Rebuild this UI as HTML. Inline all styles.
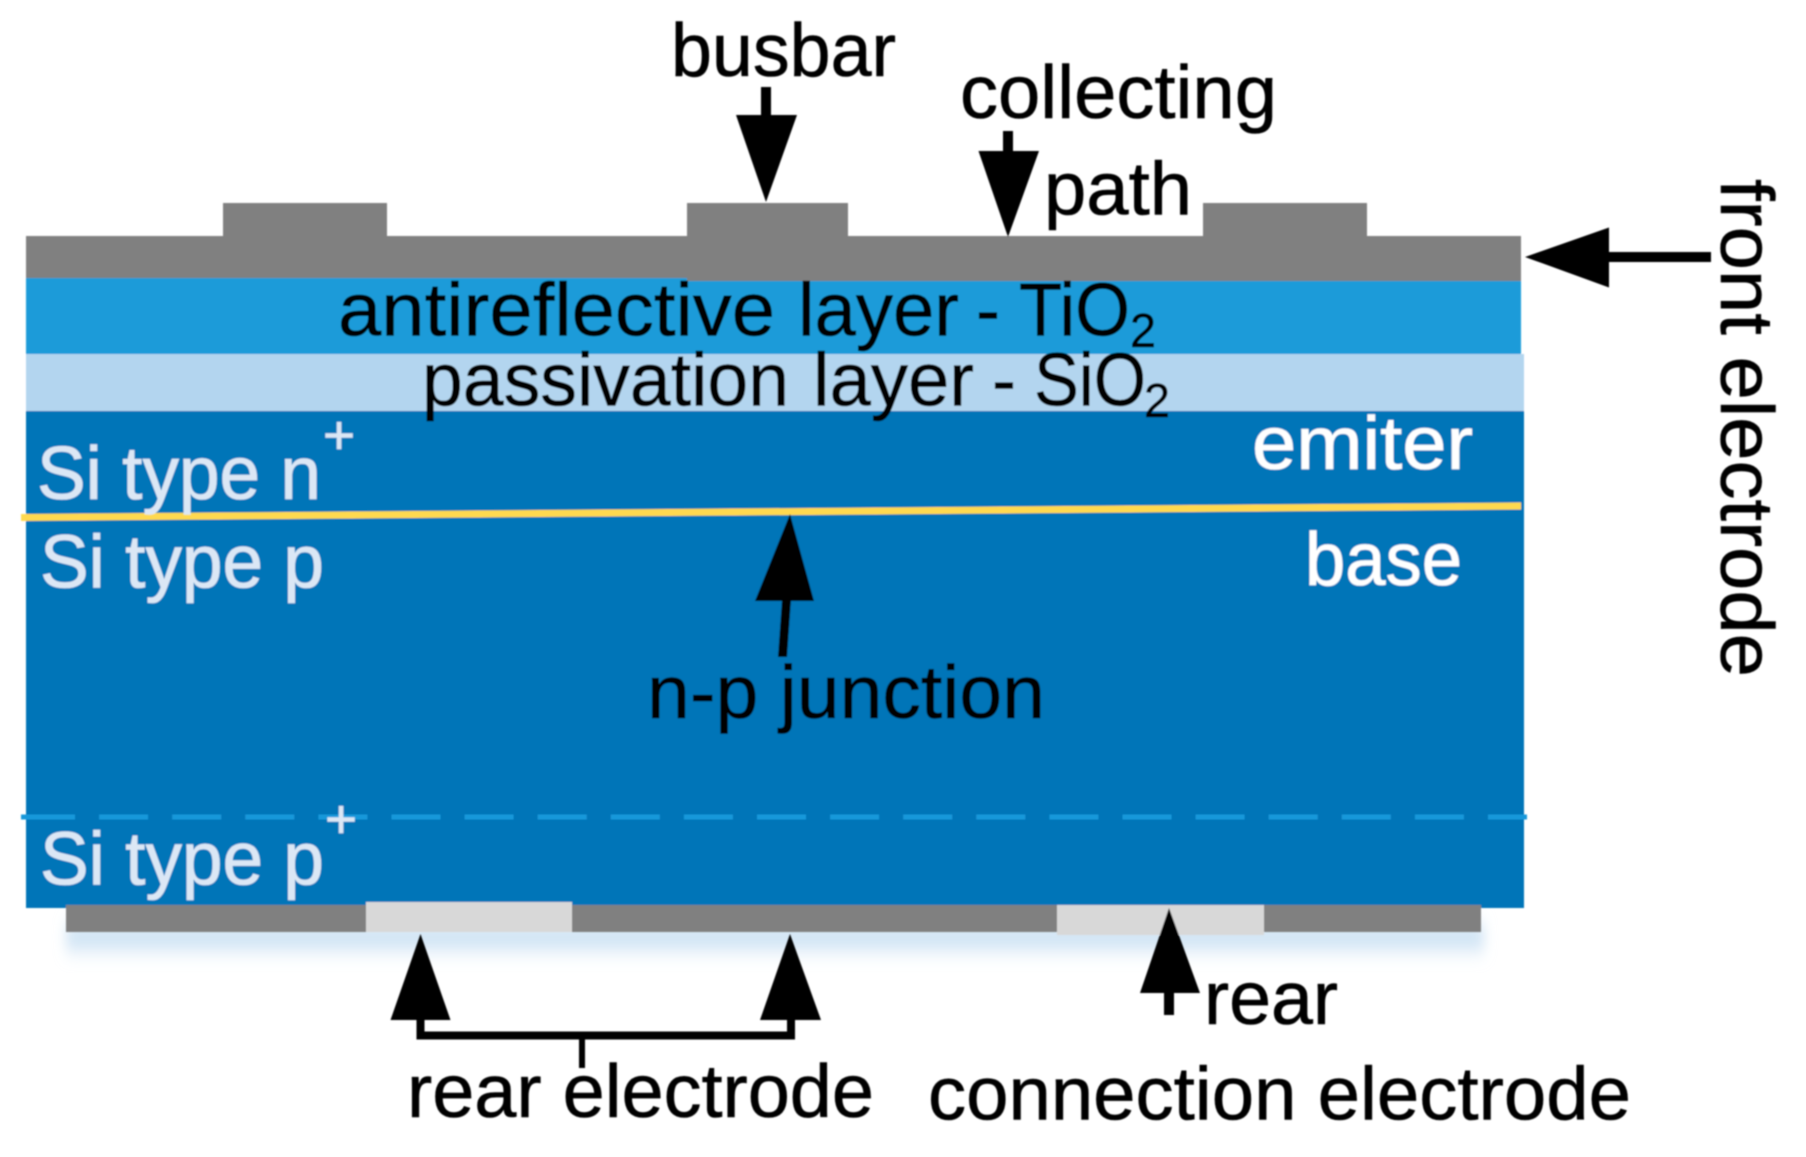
<!DOCTYPE html>
<html>
<head>
<meta charset="utf-8">
<style>
html,body{margin:0;padding:0;background:#fff;}
svg{display:block;}
text{font-family:"Liberation Sans",sans-serif;font-size:75px;fill:#000;stroke:#000;stroke-width:.6px;}
.w{fill:#fff;stroke:#fff;}
.l{fill:#dbe7f5;stroke:#dbe7f5;}
</style>
</head>
<body>
<svg width="1806" height="1157" viewBox="0 0 1806 1157" xmlns="http://www.w3.org/2000/svg">
<defs>
<filter id="b" x="-5%" y="-100%" width="110%" height="300%"><feGaussianBlur stdDeviation="6 10"/></filter>
<filter id="s" x="-5%" y="-5%" width="110%" height="110%"><feGaussianBlur stdDeviation="0.8"/></filter>
</defs>
<rect x="66" y="925" width="1418" height="24" fill="#c9e0f3" filter="url(#b)"/>
<g filter="url(#s)">
<rect x="26" y="411" width="1498" height="497" fill="#0174b8"/>
<rect x="26" y="278" width="1495" height="76" fill="#1c9bd9"/>
<rect x="26" y="354" width="1498" height="57" fill="#b3d5ef"/>
<path d="M26 236H223V203H387V236H687V203H848V236H1203V203H1367V236H1521V281H687V278H26Z" fill="#808080"/>
<rect x="66" y="905" width="1415" height="27" fill="#808080"/>
<rect x="366" y="902" width="206" height="30" fill="#d8d8d8"/>
<rect x="1057" y="905" width="207" height="30" fill="#d8d8d8"/>
<line x1="21" y1="517.5" x2="1521" y2="506" stroke="#ffd94f" stroke-width="7"/>
<line x1="21" y1="817" x2="27" y2="817" stroke="#1598da" stroke-width="5"/>
<line x1="26" y1="817" x2="1527" y2="817" stroke="#1598da" stroke-width="5" stroke-dasharray="49 24.1"/>
<g fill="#000" stroke="none">
<rect x="761" y="87" width="10" height="30"/>
<polygon points="736,115 797,115 766,202"/>
<rect x="1003" y="131" width="10" height="22"/>
<polygon points="978.5,151 1039,151 1008,237"/>
<polygon points="1525,257 1609,227.5 1609,287.5"/>
<rect x="1607" y="252" width="104" height="10"/>
<polygon points="790,514 755,601 814,601"/>
<polygon points="778,657 787,657 791,600 782,600"/>
<polygon points="420.5,934 390.5,1020 450.5,1020"/>
<polygon points="790,934 760,1020 821,1020"/>
<polygon points="1169,908 1140,993 1200,993"/>
<rect x="1164" y="991" width="10" height="24"/>
</g>
<path d="M420.5 1018V1035.5H791V1018" fill="none" stroke="#000" stroke-width="8"/>
<rect x="579" y="1035" width="6" height="33" fill="#000"/>
<text x="671" y="76" textLength="225" lengthAdjust="spacingAndGlyphs">busbar</text>
<text x="960" y="118" textLength="317" lengthAdjust="spacingAndGlyphs">collecting</text>
<text x="1044" y="214.5" textLength="148" lengthAdjust="spacingAndGlyphs">path</text>
<text transform="translate(1721,179) rotate(90)" x="0" y="0" textLength="498" lengthAdjust="spacingAndGlyphs">front electrode</text>
<text x="338" y="335.5" textLength="437" lengthAdjust="spacingAndGlyphs">antireflective</text>
<text x="798" y="335.5" textLength="161" lengthAdjust="spacingAndGlyphs">layer</text>
<text x="976" y="335.5" textLength="24" lengthAdjust="spacingAndGlyphs">-</text>
<text x="1019" y="335.5" textLength="111" lengthAdjust="spacingAndGlyphs">TiO</text>
<text x="1130" y="347" textLength="26" lengthAdjust="spacingAndGlyphs" style="font-size:48px">2</text>
<text x="422" y="405.5" textLength="367" lengthAdjust="spacingAndGlyphs">passivation</text>
<text x="813" y="405.5" textLength="161" lengthAdjust="spacingAndGlyphs">layer</text>
<text x="992" y="405.5" textLength="24" lengthAdjust="spacingAndGlyphs">-</text>
<text x="1034" y="405.5" textLength="112" lengthAdjust="spacingAndGlyphs">SiO</text>
<text x="1144" y="417" textLength="26" lengthAdjust="spacingAndGlyphs" style="font-size:48px">2</text>
<text class="w" x="1252" y="469" textLength="221" lengthAdjust="spacingAndGlyphs">emiter</text>
<text class="w" x="1305" y="585" textLength="157" lengthAdjust="spacingAndGlyphs">base</text>
<text class="l" x="37" y="499" textLength="284" lengthAdjust="spacingAndGlyphs">Si type n</text>
<text class="l" x="339" y="454" text-anchor="middle" style="font-size:55px">+</text>
<text class="l" x="40" y="587.5" textLength="284" lengthAdjust="spacingAndGlyphs">Si type p</text>
<text class="l" x="40" y="884.5" textLength="284" lengthAdjust="spacingAndGlyphs">Si type p</text>
<text class="l" x="341" y="838" text-anchor="middle" style="font-size:55px">+</text>
<text x="647" y="718" textLength="398" lengthAdjust="spacingAndGlyphs">n-p junction</text>
<text x="407" y="1117" textLength="467" lengthAdjust="spacingAndGlyphs">rear electrode</text>
<text x="1204" y="1024" textLength="134" lengthAdjust="spacingAndGlyphs">rear</text>
<text x="928" y="1119.5" textLength="703" lengthAdjust="spacingAndGlyphs">connection electrode</text>
</g>
</svg>
</body>
</html>
